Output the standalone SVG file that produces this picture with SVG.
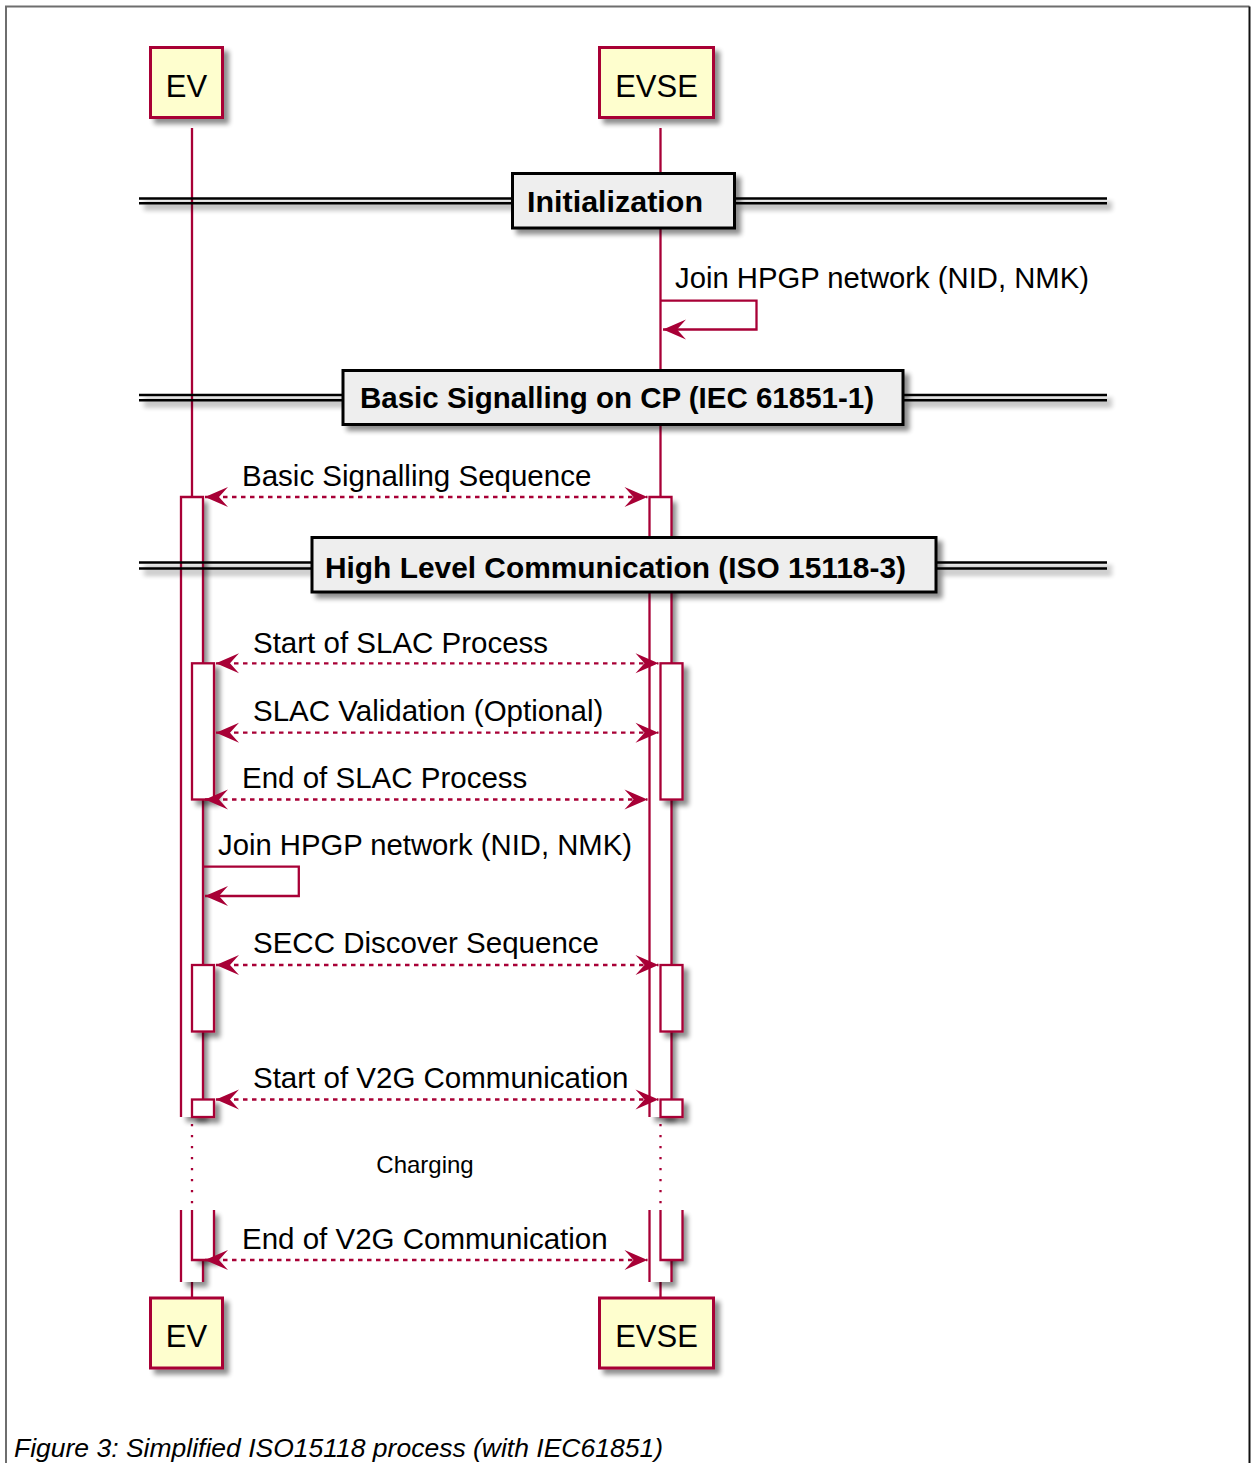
<svg xmlns="http://www.w3.org/2000/svg" width="1253" height="1463" viewBox="0 0 1253 1463">
<style>
.ll{stroke:#A80036;stroke-width:2.3;fill:none}
.dot{stroke:#A80036;stroke-width:2.3;fill:none;stroke-dasharray:2.3 8.7}
.actf{fill:#fff;stroke:none}
.acts{fill:none;stroke:#A80036;stroke-width:2.3}
.prect{fill:#FEFECE;stroke:#A80036;stroke-width:3}
.pt{font-family:"Liberation Sans",Arial,sans-serif;font-size:31px;fill:#000;text-anchor:middle}
.msg{stroke:#A80036;stroke-width:2.3;stroke-dasharray:4.5 4.5;fill:none}
.self{stroke:#A80036;stroke-width:2.3;fill:none}
.mt{font-family:"Liberation Sans",Arial,sans-serif;font-size:29.5px;fill:#000}
.dbox{fill:#EEEEEE;stroke:#000;stroke-width:3}
.dline{stroke:#000;stroke-width:2.4;fill:none}
.dt{font-family:"Liberation Sans",Arial,sans-serif;font-size:29.5px;font-weight:bold;fill:#000}
.cap{font-family:"Liberation Sans",Arial,sans-serif;font-size:26px;font-style:italic;fill:#000}
</style>
<defs>
<filter id="sh" filterUnits="userSpaceOnUse" x="0" y="0" width="1253" height="1463">
<feGaussianBlur in="SourceAlpha" stdDeviation="2.5"/>
<feOffset dx="5" dy="5"/>
<feComponentTransfer><feFuncA type="linear" slope="0.45"/></feComponentTransfer>
<feMerge><feMergeNode/><feMergeNode in="SourceGraphic"/></feMerge>
</filter>
<marker id="ah" viewBox="-24 -11 25 22" refX="0" refY="0" markerWidth="25" markerHeight="22" markerUnits="userSpaceOnUse" orient="auto-start-reverse">
<path d="M0,0 L-23,-10 L-14,0 L-23,10 Z" fill="#A80036" stroke="none"/>
</marker>
</defs>

<g id="frame">
<path d="M6,1463 V6.5 H1249.5" fill="none" stroke="#6e6e6e" stroke-width="2"/>
<path d="M1249.5,6.5 V1463" fill="none" stroke="#111" stroke-width="2"/>
</g>

<g id="lifelines">
<path class="ll" d="M192,128 V497 M192,1282 V1298"/>
<path class="dot" d="M192,1124 V1210"/>
<path class="ll" d="M660.5,128 V497 M660.5,1282 V1298"/>
<path class="dot" d="M660.5,1124 V1210"/>
</g>

<g id="activations">
<rect class="actf" x="181" y="497" width="22" height="620" filter="url(#sh)"/>
<path class="acts" d="M181,1117 V497 H203 V1117"/>
<rect class="acts" x="192" y="663.3" width="22" height="136.2" style="fill:#fff" filter="url(#sh)"/>
<rect class="acts" x="192" y="965" width="22" height="66.5" style="fill:#fff" filter="url(#sh)"/>
<rect class="acts" x="192" y="1099.5" width="22" height="17.5" style="fill:#fff" filter="url(#sh)"/>
<rect class="actf" x="649.5" y="497" width="22" height="620" filter="url(#sh)"/>
<path class="acts" d="M649.5,1117 V497 H671.5 V1117"/>
<rect class="acts" x="660.5" y="663.3" width="22" height="136.2" style="fill:#fff" filter="url(#sh)"/>
<rect class="acts" x="660.5" y="965" width="22" height="66.5" style="fill:#fff" filter="url(#sh)"/>
<rect class="acts" x="660.5" y="1099.5" width="22" height="17.5" style="fill:#fff" filter="url(#sh)"/>
<rect class="actf" x="181" y="1210" width="22" height="72" filter="url(#sh)"/>
<path class="acts" d="M181,1210 V1282 M203,1210 V1282"/>
<rect class="actf" x="192" y="1210" width="22" height="50" filter="url(#sh)"/>
<path class="acts" d="M192,1210 V1260 H214 V1210"/>
<rect class="actf" x="649.5" y="1210" width="22" height="72" filter="url(#sh)"/>
<path class="acts" d="M649.5,1210 V1282 M671.5,1210 V1282"/>
<rect class="actf" x="660.5" y="1210" width="22" height="50" filter="url(#sh)"/>
<path class="acts" d="M660.5,1210 V1260 H682.5 V1210"/>
</g>

<g id="divider-init">
<g filter="url(#sh)">
<path class="dline" d="M139,198.5 H512.5 M139,203.3 H512.5 M734.5,198.5 H1107 M734.5,203.3 H1107"/>
<rect class="dbox" x="512.5" y="173.5" width="222" height="54.5"/>
</g>
<text class="dt" x="527" y="211.7" textLength="176" lengthAdjust="spacingAndGlyphs">Initialization</text>
</g>

<g id="divider-basic">
<g filter="url(#sh)">
<path class="dline" d="M139,395 H343 M139,400.3 H343 M903,395 H1107 M903,400.3 H1107"/>
<rect class="dbox" x="343" y="370.5" width="560" height="54"/>
</g>
<text class="dt" x="360" y="408.3" textLength="514" lengthAdjust="spacingAndGlyphs">Basic Signalling on CP (IEC 61851-1)</text>
</g>

<g id="divider-hlc">
<g filter="url(#sh)">
<path class="dline" d="M139,562.5 H312 M139,568.5 H312 M936,562.5 H1107 M936,568.5 H1107"/>
<rect class="dbox" x="312" y="537.5" width="624" height="54.5"/>
</g>
<text class="dt" x="325" y="577.5" textLength="581" lengthAdjust="spacingAndGlyphs">High Level Communication (ISO 15118-3)</text>
</g>

<g id="connectors">
<path class="self" d="M660.5,300.7 H756.5 V329.5 H663" marker-end="url(#ah)"/>
<line class="msg" x1="205" y1="497" x2="647.5" y2="497" marker-start="url(#ah)" marker-end="url(#ah)"/>
<line class="msg" x1="216" y1="663.3" x2="658.5" y2="663.3" marker-start="url(#ah)" marker-end="url(#ah)"/>
<line class="msg" x1="216" y1="732.7" x2="658.5" y2="732.7" marker-start="url(#ah)" marker-end="url(#ah)"/>
<line class="msg" x1="205" y1="799.5" x2="647.5" y2="799.5" marker-start="url(#ah)" marker-end="url(#ah)"/>
<path class="self" d="M203,866.7 H298.8 V896 H205" marker-end="url(#ah)"/>
<line class="msg" x1="216" y1="965" x2="658.5" y2="965" marker-start="url(#ah)" marker-end="url(#ah)"/>
<line class="msg" x1="216" y1="1099.5" x2="658.5" y2="1099.5" marker-start="url(#ah)" marker-end="url(#ah)"/>
<line class="msg" x1="205" y1="1260" x2="647.5" y2="1260" marker-start="url(#ah)" marker-end="url(#ah)"/>
</g>

<g id="labels">
<text class="mt" x="675" y="288.3" textLength="414" lengthAdjust="spacingAndGlyphs">Join HPGP network (NID, NMK)</text>
<text class="mt" x="242" y="485.5">Basic Signalling Sequence</text>
<text class="mt" x="253" y="652.7">Start of SLAC Process</text>
<text class="mt" x="253" y="720.5">SLAC Validation (Optional)</text>
<text class="mt" x="242" y="788.3">End of SLAC Process</text>
<text class="mt" x="218" y="855" textLength="414" lengthAdjust="spacingAndGlyphs">Join HPGP network (NID, NMK)</text>
<text class="mt" x="253" y="952.5">SECC Discover Sequence</text>
<text class="mt" x="253" y="1088.3">Start of V2G Communication</text>
<text class="mt" x="242" y="1249.3">End of V2G Communication</text>
<text x="425" y="1173.3" style="font-family:'Liberation Sans',Arial,sans-serif;font-size:24px;fill:#000;text-anchor:middle">Charging</text>
</g>

<g id="EV-top">
<rect class="prect" x="150.5" y="47.5" width="72" height="70" filter="url(#sh)"/>
<text class="pt" x="186.5" y="96.5">EV</text>
</g>
<g id="EVSE-top">
<rect class="prect" x="599.5" y="47.5" width="114" height="70" filter="url(#sh)"/>
<text class="pt" x="656.5" y="96.5">EVSE</text>
</g>
<g id="EV-bottom">
<rect class="prect" x="150.5" y="1298" width="72" height="70" filter="url(#sh)"/>
<text class="pt" x="186.5" y="1347">EV</text>
</g>
<g id="EVSE-bottom">
<rect class="prect" x="599.5" y="1298" width="114" height="70" filter="url(#sh)"/>
<text class="pt" x="656.5" y="1347">EVSE</text>
</g>

<text id="caption" class="cap" x="14" y="1457" textLength="649" lengthAdjust="spacingAndGlyphs">Figure 3: Simplified ISO15118 process (with IEC61851)</text>
</svg>
